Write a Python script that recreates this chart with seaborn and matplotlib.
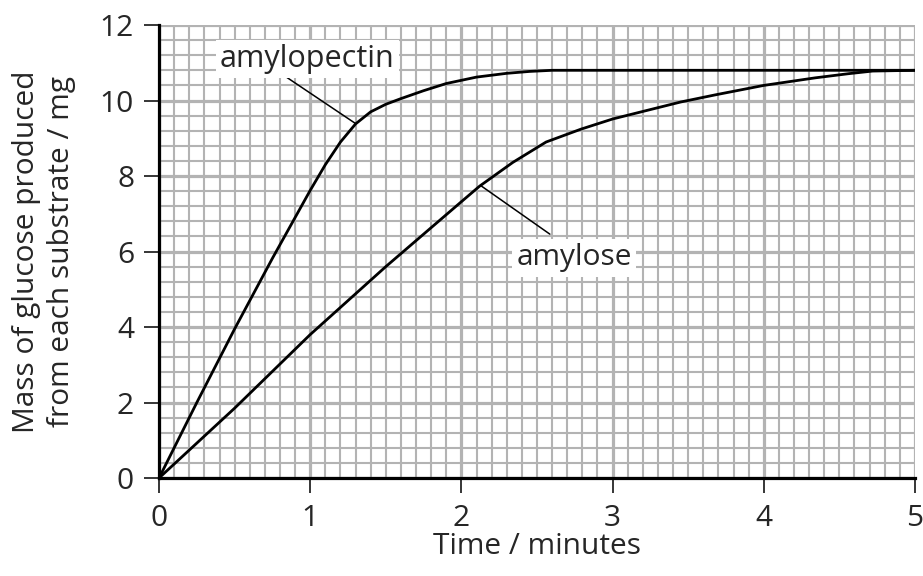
import numpy as np
import pandas as pd
import matplotlib
matplotlib.use("Agg")
import matplotlib.pyplot as plt
from matplotlib.ticker import MultipleLocator
import seaborn as sns

# values
amylopectin_time = [0, 0.25, 0.5, 0.75, 1.0, 1.1, 1.2, 1.3, 1.4, 1.5, 1.6, 1.75, 1.9, 2.1, 2.3, 2.45, 2.6, 5.0]
amylopectin_mass = [0, 2.0, 3.95, 5.82, 7.62, 8.3, 8.9, 9.38, 9.7, 9.9, 10.05, 10.26, 10.45, 10.62, 10.72, 10.77, 10.8, 10.8]

amylose_time = [0, 0.5, 1.0, 1.5, 2.0, 2.12, 2.34, 2.56, 2.79, 3.0, 3.23, 3.45, 3.68, 4.0, 4.34, 4.56, 4.72, 5.0]
amylose_mass = [0, 1.85, 3.8, 5.6, 7.32, 7.73, 8.36, 8.9, 9.24, 9.51, 9.74, 9.96, 10.15, 10.4, 10.6, 10.71, 10.78, 10.8]

x_ticks = [0, 1, 2, 3, 4, 5]
y_ticks = [0, 2, 4, 6, 8, 10, 12]

df = pd.concat([
    pd.DataFrame({'time': amylopectin_time, 'mass': amylopectin_mass, 'substrate': 'amylopectin'}),
    pd.DataFrame({'time': amylose_time, 'mass': amylose_mass, 'substrate': 'amylose'}),
])

sns.set_style("white")
plt.rcParams['font.family'] = ['Open Sans', 'DejaVu Sans']

fig = plt.figure(figsize=(9.23, 5.76), dpi=100)
ax = fig.add_axes([0.1723, 0.1701, 0.8190, 0.7865])

# graph paper grid
grid_col = '#b3b3b3'
ax.xaxis.set_major_locator(MultipleLocator(0.5))
ax.xaxis.set_minor_locator(MultipleLocator(0.1))
ax.yaxis.set_major_locator(MultipleLocator(2))
ax.yaxis.set_minor_locator(MultipleLocator(0.4))
ax.grid(which='major', color=grid_col, linewidth=2.3, zorder=0)
ax.grid(which='minor', color=grid_col, linewidth=1.5, zorder=0)
ax.set_axisbelow(True)

sns.lineplot(data=df, x='time', y='mass', units='substrate', estimator=None,
             color='black', linewidth=2.0, ax=ax, zorder=3)

# leader lines and labels
ax.plot([0.82, 1.296], [10.68, 9.40], color='black', linewidth=1.1, zorder=3)
ax.plot([2.13, 2.585], [7.74, 6.46], color='black', linewidth=1.1, zorder=3)
box = dict(facecolor='white', edgecolor='none', pad=3)
ax.text(0.98, 11.1, 'amylopectin', fontsize=22, ha='center', va='center', bbox=box, zorder=4)
ax.text(2.745, 5.83, 'amylose', fontsize=21.5, ha='center', va='center', bbox=box, zorder=4)

ax.set_xlim(0, 5)
ax.set_ylim(0, 12)
ax.set_xticks(x_ticks)
ax.set_yticks(y_ticks)
ax.set_xticklabels([str(t) for t in x_ticks])
ax.set_yticklabels([str(t) for t in y_ticks])
ax.tick_params(which='major', direction='out', length=11, width=1.1, color='black',
               labelsize=21.5, bottom=True, left=True)
ax.tick_params(axis='y', which='major', pad=7)
ax.tick_params(axis='x', which='major', pad=8)
ax.tick_params(which='minor', length=0)

for s in ['top', 'right']:
    ax.spines[s].set_visible(False)
for s in ['left', 'bottom']:
    ax.spines[s].set_color('black')
    ax.spines[s].set_linewidth(2.3)
    ax.spines[s].set_zorder(5)

ax.set_xlabel('Time / minutes', fontsize=21.5)
ax.set_ylabel('Mass of glucose produced\nfrom each substrate / mg', fontsize=21.5,
              linespacing=1.25)
ax.xaxis.set_label_coords(0.5, -0.12)
ax.yaxis.set_label_coords(-0.11, 0.5)

fig.savefig('out.png', dpi=100)
